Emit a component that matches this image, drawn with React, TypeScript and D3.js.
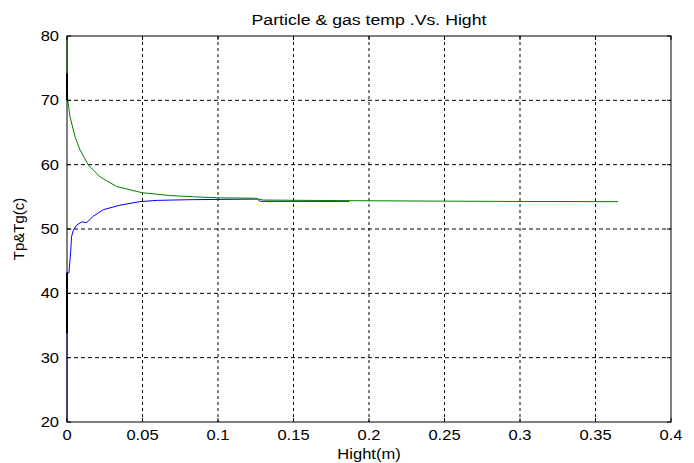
import React from "react";
import * as d3 from "d3";

const xTicks = [0, 0.05, 0.1, 0.15, 0.2, 0.25, 0.3, 0.35, 0.4];
const yTicks = [20, 30, 40, 50, 60, 70, 80];

// Particle temperature (blue)
const hightTp = [0, 0, 0.0013, 0.0025, 0.003, 0.0042, 0.0064, 0.0097, 0.013, 0.0175, 0.024, 0.035, 0.048, 0.06, 0.08, 0.1, 0.126, 0.128, 0.187];
const tempTp = [20, 43.2, 43.2, 46.7, 48.8, 49.8, 50.6, 51.1, 51.0, 52.0, 53.0, 53.7, 54.25, 54.45, 54.55, 54.6, 54.65, 54.3, 54.3];

// Gas temperature (green)
const hightTg = [0, 0, 0.0005, 0.002, 0.0053, 0.0086, 0.0141, 0.0219, 0.0329, 0.0495, 0.068, 0.085, 0.1, 0.124, 0.13, 0.19, 0.25, 0.3, 0.365];
const tempTg = [80, 74, 70, 67.45, 64.35, 62.3, 59.95, 58.1, 56.6, 55.65, 55.2, 55.0, 54.85, 54.78, 54.5, 54.4, 54.33, 54.28, 54.25];

// Black overlaid pieces at x = 0
const blackHight = [[0, 0], [0, 0]];
const blackTemp = [[74.2, 70], [43.2, 33.8]];

const W = 694, H = 463;
const L = 67, R = 671, T = 36, B = 422;
const font = "'Liberation Sans', Arial, sans-serif";
const SX = 1.18;

function Label({ x, y, anchor, size, children }: { x: number; y: number; anchor: string; size: number; children: React.ReactNode }) {
  return (
    <g transform={`translate(${x},${y}) scale(${SX},1)`}>
      <text x={0} y={0} textAnchor={anchor} fontFamily={font} fontSize={size} fill="#000">{children}</text>
    </g>
  );
}

export default function App() {
  const x = d3.scaleLinear().domain([0, 0.4]).range([L, R]);
  const y = d3.scaleLinear().domain([20, 80]).range([B, T]);
  const line = d3.line<[number, number]>().x(d => x(d[0])).y(d => y(d[1]));
  const tp = hightTp.map((h, i) => [h, tempTp[i]] as [number, number]);
  const tg = hightTg.map((h, i) => [h, tempTg[i]] as [number, number]);
  return (
    <svg width={W} height={H} style={{ position: "absolute", left: 0, top: 0, background: "#fff" }}>
      <rect x={0} y={0} width={W} height={H} fill="#fff" />
      {xTicks.slice(1, -1).map(t => (
        <line key={"gx" + t} x1={x(t)} x2={x(t)} y1={T} y2={B} stroke="#000" strokeWidth={1} strokeDasharray="3,3" />
      ))}
      {yTicks.slice(1, -1).map(t => (
        <line key={"gy" + t} x1={L} x2={R} y1={y(t)} y2={y(t)} stroke="#000" strokeWidth={1} strokeDasharray="4,3" />
      ))}
      <path d={line(tp) || ""} fill="none" stroke="#0000ff" strokeWidth={1} />
      <path d={line(tg) || ""} fill="none" stroke="#008000" strokeWidth={1} />
      {blackHight.map((hs, i) => (
        <path key={"b" + i} d={line(hs.map((h, j) => [h, blackTemp[i][j]] as [number, number])) || ""} fill="none" stroke="#000" strokeWidth={2} />
      ))}
      <rect x={L} y={T} width={R - L} height={B - T} fill="none" stroke="#000" strokeWidth={1} />
      {xTicks.map(t => (
        <g key={"tx" + t}>
          <line x1={x(t)} x2={x(t)} y1={B} y2={B - 4} stroke="#000" />
          <line x1={x(t)} x2={x(t)} y1={T} y2={T + 4} stroke="#000" />
          <Label x={x(t)} y={B + 18} anchor="middle" size={14}>{String(t)}</Label>
        </g>
      ))}
      {yTicks.map(t => (
        <g key={"ty" + t}>
          <line x1={L} x2={L + 4} y1={y(t)} y2={y(t)} stroke="#000" />
          <line x1={R} x2={R - 4} y1={y(t)} y2={y(t)} stroke="#000" />
          <Label x={L - 8} y={y(t) + 5} anchor="end" size={14}>{String(t)}</Label>
        </g>
      ))}
      <Label x={(L + R) / 2} y={25} anchor="middle" size={15}>Particle &amp; gas temp .Vs. Hight</Label>
      <Label x={(L + R) / 2} y={459} anchor="middle" size={14}>Hight(m)</Label>
      <text transform={`translate(24,${(T + B) / 2}) rotate(-90)`} textAnchor="middle" fontFamily={font} fontSize={15} fill="#000">Tp&amp;Tg(c)</text>
    </svg>
  );
}
